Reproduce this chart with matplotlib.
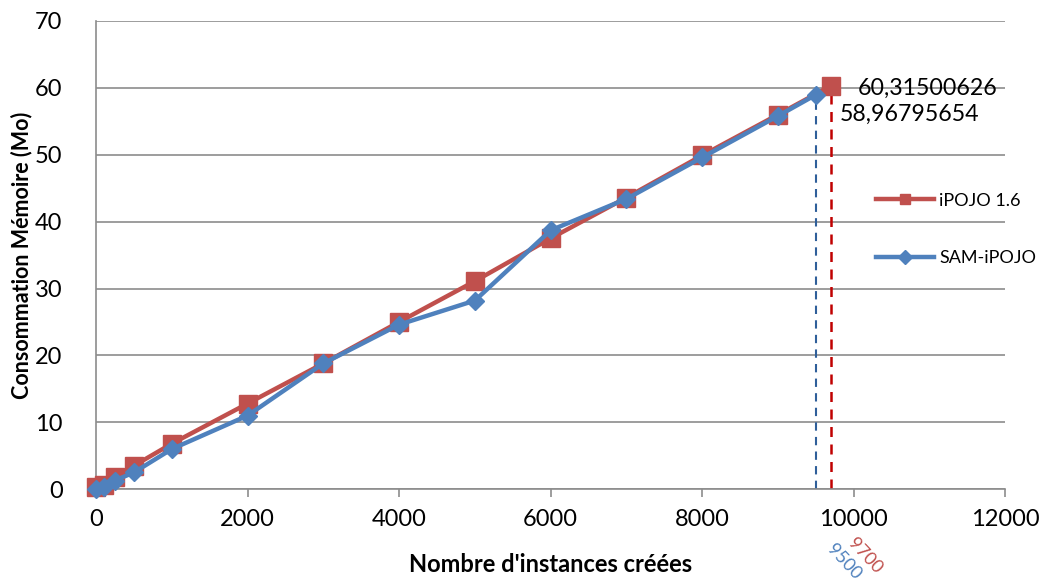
import matplotlib
matplotlib.use("Agg")
import matplotlib.pyplot as plt
from matplotlib.transforms import blended_transform_factory

plt.rcParams['font.family'] = ['Lato', 'DejaVu Sans']

# Data
ipojo_x = [0, 100, 250, 500, 1000, 2000, 3000, 4000, 5000, 6000, 7000, 8000, 9000, 9700]
ipojo_y = [0.3, 0.6, 1.8, 3.5, 6.8, 12.8, 18.8, 25.0, 31.1, 37.5, 43.6, 49.9, 56.0, 60.31500626]
sam_x = [0, 100, 250, 500, 1000, 2000, 3000, 4000, 5000, 6000, 7000, 8000, 9000, 9500]
sam_y = [0.1, 0.4, 1.3, 2.5, 6.0, 11.0, 18.8, 24.6, 28.2, 38.7, 43.4, 49.6, 55.8, 58.96795654]
series_names = ["iPOJO 1.6", "SAM-iPOJO"]
xticks = [0, 2000, 4000, 6000, 8000, 10000, 12000]
yticks = [0, 10, 20, 30, 40, 50, 60, 70]

red = "#C0504D"
blue = "#4F81BD"
grid_c = "#8C8C8C"

fig = plt.figure(figsize=(10.43, 5.81), dpi=100)
ax = fig.add_axes([0.092, 0.158, 0.872, 0.806])

ax.set_xlim(0, 12000)
ax.set_ylim(0, 70)
ax.set_xticks(xticks)
ax.set_yticks(yticks)
ax.yaxis.grid(True, color=grid_c, linewidth=1.2)
ax.set_axisbelow(True)
for s in ["top", "right"]:
    ax.spines[s].set_visible(False)
for s in ["left", "bottom"]:
    ax.spines[s].set_color(grid_c)
    ax.spines[s].set_linewidth(1.2)
ax.tick_params(axis="x", direction="out", color=grid_c, length=6, width=1.2,
               labelsize=17, pad=8)
ax.tick_params(axis="y", length=0, labelsize=17, pad=24)

# Dashed lines
ax.plot([ipojo_x[-1], ipojo_x[-1]], [0, ipojo_y[-1]], color="#C00000", ls=(0, (4, 3)), lw=1.8, zorder=2)
ax.plot([sam_x[-1], sam_x[-1]], [0, sam_y[-1]], color="#2F5F9A", ls=(0, (4, 3)), lw=1.5, zorder=2)

l1, = ax.plot(ipojo_x, ipojo_y, color=red, lw=3.2, marker="s", ms=13, label=series_names[0], zorder=3, clip_on=False)
l2, = ax.plot(sam_x, sam_y, color=blue, lw=3.2, marker="D", ms=9.5, label=series_names[1], zorder=4, clip_on=False)

ax.annotate("60,31500626", (ipojo_x[-1], ipojo_y[-1]), xytext=(19, -2), textcoords="offset points",
            fontsize=16.7, ha="left", va="center")
ax.annotate("58,96795654", (sam_x[-1], sam_y[-1]), xytext=(17, -14), textcoords="offset points",
            fontsize=16.7, ha="left", va="center")

tr = blended_transform_factory(ax.transData, ax.transAxes)
ax.annotate("9500", (sam_x[-1], 0), xycoords=tr, xytext=(20, -52), textcoords="offset pixels",
            color=blue, rotation=-47, fontsize=13, ha="left", va="top", rotation_mode="anchor",
            annotation_clip=False)
ax.annotate("9700", (ipojo_x[-1], 0), xycoords=tr, xytext=(25, -46), textcoords="offset pixels",
            color=red, rotation=-47, fontsize=13, ha="left", va="top", rotation_mode="anchor",
            annotation_clip=False)

ax.set_xlabel("Nombre d'instances créées", fontsize=17, fontweight="bold", labelpad=17)
ax.set_ylabel("Consommation Mémoire (Mo)", fontsize=15.5, fontweight="bold", labelpad=2)

leg = ax.legend(handles=[l1, l2], loc="center left", bbox_to_anchor=(0.85, 0.555),
                frameon=False, fontsize=13, labelspacing=2.3, handlelength=3.2,
                handletextpad=0.3, borderaxespad=0)
for h in leg.legend_handles:
    h.set_markersize(7)

fig.savefig("out.png", dpi=100)
